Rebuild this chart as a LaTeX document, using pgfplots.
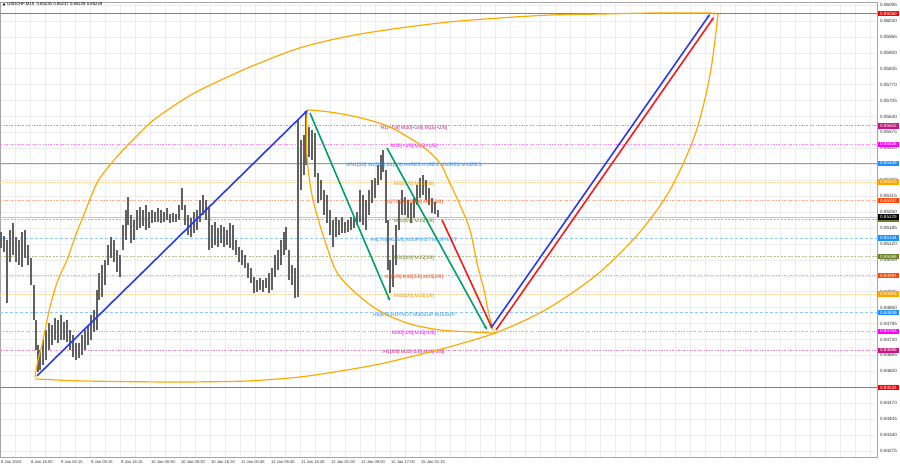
\documentclass[border=0pt]{standalone}
\usepackage{pgfplots}
\pgfplotsset{compat=1.18}
\usepackage{pgfplotstable}
\usepackage{fontspec}
\setmainfont{Liberation Sans}
\usetikzlibrary{arrows.meta}
\definecolor{mvred}{RGB}{199,21,133}
\definecolor{mmag}{RGB}{255,0,255}
\definecolor{dblue}{RGB}{30,144,255}
\definecolor{morange}{RGB}{255,165,0}
\definecolor{ored}{RGB}{255,69,0}
\definecolor{olv}{RGB}{107,128,35}
\definecolor{arcor}{RGB}{255,170,0}
\definecolor{tgreen}{RGB}{0,160,110}
\definecolor{tblue}{RGB}{40,60,235}
\definecolor{tred}{RGB}{240,30,30}
\definecolor{lred}{RGB}{255,0,0}
\newcommand\fs{\fontsize{4.6}{5}\selectfont}
\newcommand\fl{\fontsize{5}{6}\selectfont}
\newcommand\ft{\fontsize{4.1}{5}\selectfont}

\pgfplotstableread{
x h l
1 0.85169 0.85103
4 0.85152 0.85087
7 0.85136 0.84879
10 0.85177 0.85046
13 0.85205 0.85075
16 0.85148 0.85046
19 0.85136 0.85034
22 0.85169 0.85026
25 0.85177 0.85063
28 0.85116 0.85034
31 0.85063 0.84952
34 0.84952 0.84809
36 0.84809 0.84687
38 0.84708 0.84597
40 0.84687 0.84605
43 0.84728 0.84626
46 0.84769 0.84646
49 0.84797 0.84687
52 0.84789 0.84708
55 0.84818 0.84728
58 0.84809 0.84716
61 0.84830 0.84728
64 0.84801 0.84728
67 0.84809 0.84720
70 0.84769 0.84687
73 0.84748 0.84658
76 0.84716 0.84646
79 0.84716 0.84654
82 0.84748 0.84667
85 0.84769 0.84687
88 0.84789 0.84708
91 0.84830 0.84728
94 0.84850 0.84761
97 0.84932 0.84769
99 0.85001 0.84891
102 0.85034 0.84903
105 0.85054 0.84952
108 0.85116 0.85034
111 0.85148 0.85063
114 0.85136 0.85046
117 0.85095 0.85005
120 0.85075 0.84985
123 0.85197 0.85095
126 0.85258 0.85136
128 0.85311 0.85197
131 0.85238 0.85124
134 0.85218 0.85136
137 0.85258 0.85177
140 0.85271 0.85185
143 0.85258 0.85193
146 0.85279 0.85177
149 0.85250 0.85185
152 0.85258 0.85205
155 0.85250 0.85209
158 0.85267 0.85209
161 0.85258 0.85205
164 0.85250 0.85209
167 0.85267 0.85218
170 0.85242 0.85205
173 0.85246 0.85209
176 0.85242 0.85209
179 0.85279 0.85218
182 0.85348 0.85258
185 0.85279 0.85197
188 0.85238 0.85156
191 0.85226 0.85148
194 0.85250 0.85165
197 0.85258 0.85177
200 0.85299 0.85209
203 0.85320 0.85238
206 0.85299 0.85218
209 0.85271 0.85095
212 0.85197 0.85103
215 0.85209 0.85116
218 0.85185 0.85107
221 0.85197 0.85124
224 0.85189 0.85107
227 0.85177 0.85116
230 0.85205 0.85103
233 0.85197 0.85095
236 0.85136 0.85075
239 0.85107 0.85046
242 0.85095 0.85034
245 0.85075 0.85022
248 0.85042 0.84981
251 0.85022 0.84960
254 0.84985 0.84920
257 0.84973 0.84924
260 0.84981 0.84932
263 0.84973 0.84924
266 0.84981 0.84940
269 0.85001 0.84920
272 0.85022 0.84932
275 0.85075 0.84985
278 0.85095 0.85014
281 0.85136 0.85034
284 0.85169 0.85075
286 0.85189 0.85095
289 0.85095 0.84973
292 0.85034 0.84952
295 0.85022 0.84899
298 0.85626 0.84903
301 0.85544 0.85340
304 0.85565 0.85401
306 0.85658 0.85442
309 0.85597 0.85475
312 0.85585 0.85462
315 0.85573 0.85393
318 0.85409 0.85287
321 0.85381 0.85299
324 0.85340 0.85238
327 0.85320 0.85205
330 0.85258 0.85156
333 0.85218 0.85107
336 0.85230 0.85148
339 0.85218 0.85156
342 0.85230 0.85165
345 0.85209 0.85165
348 0.85218 0.85169
351 0.85230 0.85177
354 0.85226 0.85185
357 0.85250 0.85197
360 0.85340 0.85209
363 0.85320 0.85197
366 0.85299 0.85177
369 0.85340 0.85238
372 0.85381 0.85287
375 0.85389 0.85307
378 0.85442 0.85360
381 0.85483 0.85381
383 0.85503 0.85413
386 0.85422 0.85205
388 0.85218 0.85014
390 0.85054 0.84920
393 0.85116 0.84944
396 0.85197 0.85034
399 0.85299 0.85177
402 0.85340 0.85238
405 0.85311 0.85238
408 0.85299 0.85226
411 0.85287 0.85205
414 0.85307 0.85226
417 0.85360 0.85279
420 0.85389 0.85307
423 0.85401 0.85320
426 0.85381 0.85299
429 0.85348 0.85279
432 0.85307 0.85246
435 0.85291 0.85242
438 0.85258 0.85230
}\candles

\begin{document}
\begin{tikzpicture}
\useasboundingbox (0,0) rectangle (900pt,468pt);
\begin{axis}[
  at={(0pt,11pt)}, anchor=south west,
  scale only axis, width=877pt, height=455pt,
  xmin=0, xmax=877, ymin=0.842504, ymax=0.861072,
  clip=false,
  axis line style={gray!70, line width=0.6pt},
  major tick length=0pt, minor tick length=0pt,
  ytick={0.84275,0.84340,0.84405,0.84470,0.84535,0.84600,0.84665,0.84730,0.84795,0.84860,0.84925,0.84990,0.85055,0.85120,0.85185,0.85250,0.85315,0.85380,0.85445,0.85510,0.85575,0.85640,0.85705,0.85770,0.85835,0.85900,0.85965,0.86030,0.86095},
  yticklabels={0.84275,0.84340,0.84405,0.84470,0.84535,0.84600,0.84665,0.84730,0.84795,0.84860,0.84925,0.84990,0.85055,0.85120,0.85185,0.85250,0.85315,0.85380,0.85445,0.85510,0.85575,0.85640,0.85705,0.85770,0.85835,0.85900,0.85965,0.86030,0.86095},
  yticklabel pos=right,
  yticklabel style={font=\fs, anchor=west, inner sep=0pt, xshift=3pt, text=black!80},
  xtick={1,31,61,91,121,151,181,211,241,271,301,331,361,391,421},
  xticklabels={8 Jan 2024,8 Jan 16:00,9 Jan 00:15,9 Jan 08:15,9 Jan 16:15,10 Jan 00:30,10 Jan 08:30,10 Jan 16:30,11 Jan 00:45,11 Jan 08:45,11 Jan 16:45,12 Jan 01:00,12 Jan 09:00,12 Jan 17:00,15 Jan 01:15},
  xticklabel style={font=\ft, anchor=north west, inner sep=0pt, yshift=-3.5pt, text=black!80},
  minor xtick={15,30,...,870},
  xminorgrids, ymajorgrids,
  major grid style={gray!14, line width=0.4pt},
  minor grid style={gray!14, line width=0.4pt},
  /pgf/number format/assume math mode=true,
]
% level lines
\addplot[lred!70, line width=0.7pt] coordinates {(0,0.86060) (877,0.86060)};
\addplot[mvred!50, line width=0.6pt, dash pattern=on 2pt off 1.5pt on 0.6pt off 1.5pt] coordinates {(0,0.85602) (877,0.85602)};
\addplot[mmag!45, line width=0.6pt, dash pattern=on 2pt off 1.5pt on 0.6pt off 1.5pt] coordinates {(0,0.85526) (877,0.85526)};
\addplot[dblue!75, line width=0.9pt] coordinates {(0,0.85449) (877,0.85449)};
\addplot[morange!45, line width=0.6pt, dash pattern=on 1.5pt off 1.5pt] coordinates {(0,0.85373) (877,0.85373)};
\addplot[ored!45, line width=0.6pt, dash pattern=on 2pt off 1.5pt on 0.6pt off 1.5pt] coordinates {(0,0.85297) (877,0.85297)};
\addplot[gray!45, line width=0.5pt] coordinates {(0,0.85229) (877,0.85229)};
\addplot[olv!50, line width=0.6pt, dash pattern=on 2pt off 1.5pt] coordinates {(0,0.85220) (877,0.85220)};
\addplot[dblue!50, line width=0.7pt, dash pattern=on 3pt off 2pt] coordinates {(0,0.85144) (877,0.85144)};
\addplot[olv!50, line width=0.6pt, dash pattern=on 2pt off 1.5pt] coordinates {(0,0.85068) (877,0.85068)};
\addplot[ored!45, line width=0.6pt, dash pattern=on 2pt off 1.5pt on 0.6pt off 1.5pt] coordinates {(0,0.84991) (877,0.84991)};
\addplot[morange!45, line width=0.6pt, dash pattern=on 1.5pt off 1.5pt] coordinates {(0,0.84915) (877,0.84915)};
\addplot[dblue!50, line width=0.7pt, dash pattern=on 3pt off 2pt] coordinates {(0,0.84839) (877,0.84839)};
\addplot[mmag!45, line width=0.6pt, dash pattern=on 2pt off 1.5pt on 0.6pt off 1.5pt] coordinates {(0,0.84763) (877,0.84763)};
\addplot[mvred!50, line width=0.6pt, dash pattern=on 2pt off 1.5pt on 0.6pt off 1.5pt] coordinates {(0,0.84686) (877,0.84686)};
\addplot[lred!70, line width=0.7pt] coordinates {(0,0.84534) (877,0.84534)};

% candles (high-low ranges)
\addplot[only marks, mark=*, mark options={opacity=0}, error bars/.cd, y dir=plus, y explicit, error mark=none,
  error bar style={draw=black!62, line width=2.2pt}]
  table[x=x, y=l, y error plus expr=\thisrow{h}-\thisrow{l}] {\candles};

% level texts
\begin{scope}[every node/.style={font=\fl, inner sep=0pt, yshift=-2pt}]
\node[text=mvred] at (axis cs:414,0.85602) {H1[+1/8] M30[+2/8] M15[+2/8]};
\node[text=mmag] at (axis cs:414,0.85526) {M30[+1/8] M15[+1/8]};
\node[text=dblue] at (axis cs:414,0.85449) {MN1[3/8] W1[3/8] D1[3/8] H4RES H1RES M30RES M15RES};
\node[text=morange!90!black] at (axis cs:414,0.85373) {M30[7/8] M15[7/8]};
\node[text=ored] at (axis cs:414,0.85297) {H1[7/8] M30[6/8] M15[6/8]};
\node[text=olv] at (axis cs:414,0.85220) {M30[5/8] M15[5/8]};
\node[text=dblue] at (axis cs:414,0.85144) {H4[7/8] H1[6/8] M30PIVOT M15PIVOT};
\node[text=olv] at (axis cs:414,0.85068) {M30[3/8] M15[3/8]};
\node[text=ored] at (axis cs:414,0.84991) {H1[5/8] M30[2/8] M15[2/8]};
\node[text=morange!90!black] at (axis cs:414,0.84915) {M30[1/8] M15[1/8]};
\node[text=dblue] at (axis cs:414,0.84839) {H4[6/8] H1PIVOT M30SUP M15SUP};
\node[text=mmag] at (axis cs:414,0.84763) {M30[-1/8] M15[-1/8]};
\node[text=mvred] at (axis cs:414,0.84686) {H1[3/8] M30[-2/8] M15[-2/8]};
\end{scope}

% orange arcs
\addplot[arcor, line width=1.2pt, smooth, tension=0.5] coordinates {
(35,0.84577) (38,0.84646) (42,0.84708) (50,0.84863) (58,0.84973) (67,0.85054) (75,0.85148) (83,0.85230) (97,0.85369) (110,0.85442) (123,0.85503) (150,0.85613) (175,0.85687) (200,0.85748) (250,0.85842) (300,0.85920) (350,0.85969) (400,0.86001) (450,0.86026) (500,0.86042) (550,0.86054) (600,0.86058) (650,0.86062) (712,0.86062)};
\addplot[arcor, line width=1.2pt, smooth, tension=0.5] coordinates {
(35,0.84569) (80,0.84561) (150,0.84557) (200,0.84557) (250,0.84561) (300,0.84577) (340,0.84601) (380,0.84630) (430,0.84679) (460,0.84712) (495,0.84756) (530,0.84818) (560,0.84887) (600,0.85005) (640,0.85169) (670,0.85340) (695,0.85565) (710,0.85809) (718,0.86058)};
\addplot[arcor, line width=1.2pt, smooth, tension=0.5] coordinates {
(308,0.85667) (330,0.85658) (357,0.85638) (390,0.85597) (423,0.85516) (440,0.85450) (447,0.85393) (460,0.85279) (470,0.85177) (477,0.85042) (484,0.84932) (488,0.84850) (493,0.84769)};
\addplot[arcor, line width=1.2pt, smooth, tension=0.5] coordinates {
(307,0.85667) (307,0.85475) (313,0.85299) (327,0.85107) (340,0.84985) (373,0.84863) (407,0.84797) (440,0.84769) (470,0.84761) (493,0.84756)};
\addplot[only marks, mark=*, mark size=1.1pt, color=arcor] coordinates {(495,0.84756) (714,0.86060)};

% trend lines
\addplot[tblue, line width=1.6pt, -{Stealth[length=4pt,width=3pt]}] coordinates {(37,0.84581) (308,0.85667)};
\addplot[tgreen, line width=1.6pt, -{Stealth[length=4pt,width=3pt]}] coordinates {(310,0.85654) (390,0.84887)};
\addplot[tgreen, line width=1.6pt, -{Stealth[length=4pt,width=3pt]}] coordinates {(387,0.85511) (487,0.84769)};
\addplot[tred, line width=1.6pt, -{Stealth[length=4pt,width=3pt]}] coordinates {(442,0.85218) (492,0.84777)};
\addplot[tblue, line width=1.6pt, -{Stealth[length=4pt,width=3pt]}] coordinates {(491,0.84777) (710,0.86058)};
\addplot[tred, line width=1.6pt, -{Stealth[length=4pt,width=3pt]}] coordinates {(496,0.84769) (714,0.86046)};

% price boxes
\begin{scope}[every node/.style={font=\fs, text=white, anchor=west, inner xsep=2.4pt, inner ysep=1.1pt}]
\node[fill=lred] at (axis cs:877.5,0.86060) {0.86060};
\node[fill=mvred] at (axis cs:877.5,0.85602) {0.85602};
\node[fill=mmag] at (axis cs:877.5,0.85526) {0.85526};
\node[fill=dblue] at (axis cs:877.5,0.85449) {0.85449};
\node[fill=morange] at (axis cs:877.5,0.85373) {0.85373};
\node[fill=ored] at (axis cs:877.5,0.85297) {0.85297};
\node[fill=olv] at (axis cs:877.5,0.85220) {0.85220};
\node[fill=black] at (axis cs:877.5,0.85229) {0.85229};
\node[fill=dblue] at (axis cs:877.5,0.85144) {0.85144};
\node[fill=olv] at (axis cs:877.5,0.85068) {0.85068};
\node[fill=ored] at (axis cs:877.5,0.84991) {0.84991};
\node[fill=morange] at (axis cs:877.5,0.84915) {0.84915};
\node[fill=dblue] at (axis cs:877.5,0.84839) {0.84839};
\node[fill=mmag] at (axis cs:877.5,0.84763) {0.84763};
\node[fill=mvred] at (axis cs:877.5,0.84686) {0.84686};
\node[fill=lred] at (axis cs:877.5,0.84534) {0.84534};
\end{scope}

% title
\fill[black] (axis cs:2.5,0.86101) -- (axis cs:5.5,0.86101) -- (axis cs:4,0.86091) -- cycle;
\node[font=\fontsize{4.3}{5}\selectfont, anchor=west, inner sep=0pt] at (axis cs:7,0.86097) {USDCHF,M15\ \ 0.85235 0.85237 0.85229 0.85229};
\end{axis}
\end{tikzpicture}
\end{document}
